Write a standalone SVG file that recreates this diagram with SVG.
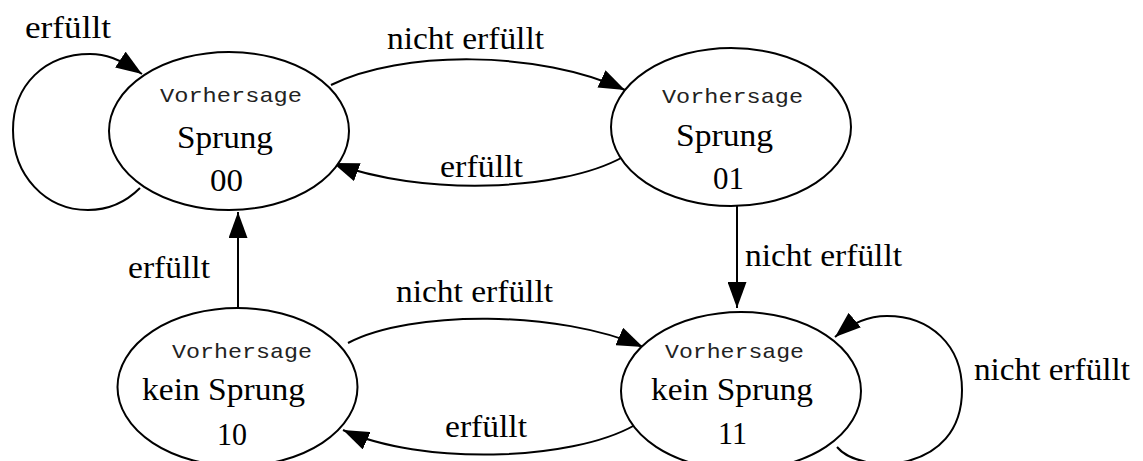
<svg xmlns="http://www.w3.org/2000/svg" width="1143" height="461" viewBox="0 0 1143 461">
  <style>
    .state { fill: #ffffff; stroke: #000000; stroke-width: 2; }
    .edge { fill: none; stroke: #000000; stroke-width: 2; marker-end: url(#arrow); }
    .lbl { font-family: "Liberation Serif", "Times New Roman", serif; font-size: 31px; fill: #000000; }
    .mono { font-family: "Liberation Mono", "Courier New", monospace; font-size: 21px; fill: #222222; }
  </style>
  <defs>
    <marker id="arrow" markerUnits="userSpaceOnUse" markerWidth="26" markerHeight="19" viewBox="0 0 26 19" refX="26" refY="9.5" orient="auto">
      <path d="M0,0 L26,9.5 L0,19 z" fill="#000000"/>
    </marker>
  </defs>
  <rect width="1143" height="461" fill="#ffffff"/>

  <!-- transitions -->
  <g id="connectors">
    <!-- 00 self loop -->
    <path class="edge" d="M140,188 C125,203 108,210 88,210 C45,210 13,175 13,130 C13,85 45,54 90,54 C105,54 118,58 142,74"/>
    <!-- 00 -> 01 -->
    <path class="edge" d="M331,85 C400,50 540,50 625,90"/>
    <!-- 01 -> 00 -->
    <path class="edge" d="M623,157 C560,192 420,196 333,163"/>
    <!-- 01 -> 11 -->
    <path class="edge" d="M737,206 L737,308"/>
    <!-- 10 -> 00 -->
    <path class="edge" d="M238,307 L238,212"/>
    <!-- 10 -> 11 -->
    <path class="edge" d="M348,343 C410,310 560,310 643,347"/>
    <!-- 11 -> 10 -->
    <path class="edge" d="M635,425 C570,462 420,465 343,430"/>
    <!-- 11 self loop -->
    <path class="edge" d="M837,447 C860,475 962,475 962,390 C962,345 930,316 887,316 C866,316 849,325 835,337"/>

    <text class="lbl" x="25" y="38" textLength="86" lengthAdjust="spacingAndGlyphs">erfüllt</text>
    <text class="lbl" x="387" y="49" textLength="157" lengthAdjust="spacingAndGlyphs">nicht erfüllt</text>
    <text class="lbl" x="440" y="177" textLength="83" lengthAdjust="spacingAndGlyphs">erfüllt</text>
    <text class="lbl" x="745" y="266" textLength="157" lengthAdjust="spacingAndGlyphs">nicht erfüllt</text>
    <text class="lbl" x="128" y="278" textLength="82" lengthAdjust="spacingAndGlyphs">erfüllt</text>
    <text class="lbl" x="396" y="302" textLength="157" lengthAdjust="spacingAndGlyphs">nicht erfüllt</text>
    <text class="lbl" x="445" y="437" textLength="82" lengthAdjust="spacingAndGlyphs">erfüllt</text>
    <text class="lbl" x="974" y="380" textLength="156" lengthAdjust="spacingAndGlyphs">nicht erfüllt</text>
  </g>

  <!-- states -->
  <g id="state-00">
    <ellipse class="state" cx="229" cy="131" rx="120" ry="79"/>
    <text class="mono" x="160" y="102" textLength="142" lengthAdjust="spacingAndGlyphs">Vorhersage</text>
    <text class="lbl" x="177" y="148" textLength="96" lengthAdjust="spacingAndGlyphs">Sprung</text>
    <text class="lbl" x="210" y="191" textLength="33" lengthAdjust="spacingAndGlyphs">00</text>
  </g>
  <g id="state-01">
    <ellipse class="state" cx="731" cy="127" rx="120" ry="79"/>
    <text class="mono" x="662" y="103" textLength="141" lengthAdjust="spacingAndGlyphs">Vorhersage</text>
    <text class="lbl" x="676" y="146" textLength="97" lengthAdjust="spacingAndGlyphs">Sprung</text>
    <text class="lbl" x="713" y="189" textLength="31" lengthAdjust="spacingAndGlyphs">01</text>
  </g>
  <g id="state-10">
    <ellipse class="state" cx="237.5" cy="387" rx="120" ry="79"/>
    <text class="mono" x="172" y="358" textLength="140" lengthAdjust="spacingAndGlyphs">Vorhersage</text>
    <text class="lbl" x="142" y="400" textLength="163" lengthAdjust="spacingAndGlyphs">kein Sprung</text>
    <text class="lbl" x="217" y="445" textLength="30" lengthAdjust="spacingAndGlyphs">10</text>
  </g>
  <g id="state-11">
    <ellipse class="state" cx="741" cy="391" rx="120" ry="79"/>
    <text class="mono" x="665" y="358" textLength="139" lengthAdjust="spacingAndGlyphs">Vorhersage</text>
    <text class="lbl" x="651" y="400" textLength="162" lengthAdjust="spacingAndGlyphs">kein Sprung</text>
    <text class="lbl" x="718" y="444" textLength="29" lengthAdjust="spacingAndGlyphs">11</text>
  </g>
</svg>
